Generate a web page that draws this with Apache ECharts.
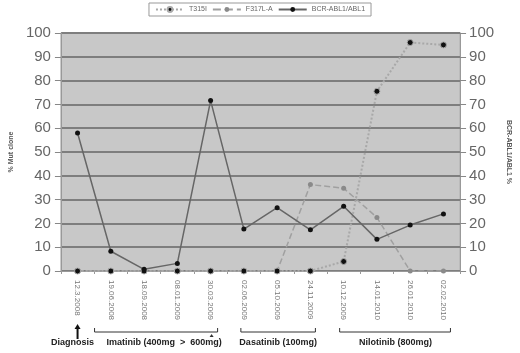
<!DOCTYPE html>
<html>
<head>
<meta charset="utf-8">
<script src="https://cdn.jsdelivr.net/npm/echarts@6/dist/echarts.min.js"></script>
<style>
  html, body { margin: 0; padding: 0; background: #fff; }
  #chart { width: 520px; height: 353px; }
</style>
</head>
<body>
<div id="chart"></div>
<script>
var dates = ['12.3.2008', '19.06.2008', '18.09.2008', '08.01.2009', '30.03.2009', '02.06.2009',
  '05.10.2009', '24.11.2009', '10.12.2009', '14.01.2010', '26.01.2010', '02.02.2010'];
var t315i = [0, 0, 0, 0, 0, 0, 0, 0, 4, 75.5, 96, 95];
var f317l = [0, 0, 0, 0, 0, 0, 0, 36.3, 34.8, 22.5, 0, 0];
var bcrAbl = [58, 8.3, 0.7, 3.2, 71.6, 17.6, 26.6, 17.3, 27.2, 13.3, 19.3, 24];
var yTicks = [0, 100, 10];

var myChart = echarts.init(document.getElementById('chart'));
var font = 'Liberation Sans, Arial, sans-serif';

var option = {
  animation: false,
  textStyle: { fontFamily: font },
  legend: {
    top: 3,
    left: 'center',
    width: 230,
    padding: [3, 6],
    itemGap: 5,
    itemWidth: 28,
    itemHeight: 6,
    borderColor: '#999',
    borderWidth: 1,
    textStyle: { fontSize: 7, color: '#666' },
    data: ['T315I', 'F317L-A', 'BCR-ABL1/ABL1']
  },
  grid: {
    left: 50, right: 50, top: 33, bottom: 82,
    show: true,
    backgroundColor: '#c8c8c8',
    borderColor: '#aaa',
    borderWidth: 1
  },
  xAxis: {
    type: 'category',
    data: dates,
    boundaryGap: true,
    axisLine: { lineStyle: { color: '#999', width: 1 } },
    axisTick: { show: true, length: 3, lineStyle: { color: '#999' } },
    axisLabel: { rotate: -90, fontSize: 8, color: '#777', margin: 9, interval: 0 }
  },
  yAxis: [
    {
      type: 'value', min: yTicks[0], max: yTicks[1], interval: yTicks[2],
      name: '% Mut clone', nameLocation: 'middle', nameGap: 40, nameRotate: 90,
      nameTextStyle: { fontSize: 7, fontWeight: 'bold', color: '#555' },
      axisLine: { show: true, lineStyle: { color: '#999' } },
      axisTick: { show: true, length: 6, lineStyle: { color: '#888' } },
      axisLabel: { fontSize: 15, color: '#666', margin: 10 },
      splitLine: { lineStyle: { color: '#7e7e7e', width: 2 } }
    },
    {
      type: 'value', min: yTicks[0], max: yTicks[1], interval: yTicks[2],
      name: 'BCR-ABL1/ABL1 %', nameLocation: 'middle', nameGap: 40, nameRotate: -90,
      nameTextStyle: { fontSize: 7, fontWeight: 'bold', color: '#555' },
      axisLine: { show: true, lineStyle: { color: '#999' } },
      axisTick: { show: true, length: 6, lineStyle: { color: '#888' } },
      axisLabel: { fontSize: 15, color: '#666', margin: 9 },
      splitLine: { show: false }
    }
  ],
  series: [
    {
      name: 'T315I', type: 'line', data: t315i,
      symbol: 'circle', symbolSize: 6,
      lineStyle: { type: 'dotted', color: '#a8a8a8', width: 2 },
      itemStyle: { color: '#111', borderColor: '#aaa', borderWidth: 1 },
      z: 3
    },
    {
      name: 'F317L-A', type: 'line', data: f317l,
      symbol: 'circle', symbolSize: 5,
      lineStyle: { type: 'dashed', color: '#a0a0a0', width: 1.5 },
      itemStyle: { color: '#8a8a8a' },
      z: 2
    },
    {
      name: 'BCR-ABL1/ABL1', type: 'line', data: bcrAbl, yAxisIndex: 1,
      symbol: 'circle', symbolSize: 5,
      lineStyle: { type: 'solid', color: '#666', width: 1.5 },
      itemStyle: { color: '#111' },
      z: 4
    }
  ]
};
myChart.setOption(option);

// treatment annotations under the date labels
function px(i) { return myChart.convertToPixel({ xAxisIndex: 0 }, dates[i]); }
var by = 332;
function bracket(x1, x2) {
  return {
    type: 'polyline',
    shape: { points: [[x1, by - 4], [x1, by], [x2, by], [x2, by - 4]] },
    style: { stroke: '#333', lineWidth: 1, fill: null }
  };
}
function label(x, text, align) {
  return {
    type: 'text', x: x, y: 343,
    style: { text: text, fontSize: 9, fontWeight: 'bold', fill: '#222', align: align || 'center', verticalAlign: 'middle', fontFamily: font }
  };
}
var x0 = px(0);
myChart.setOption({
  graphic: [
    { type: 'line', shape: { x1: x0, y1: 339, x2: x0, y2: 327 }, style: { stroke: '#111', lineWidth: 2 } },
    { type: 'polygon', shape: { points: [[x0 - 3, 329], [x0 + 3, 329], [x0, 324]] }, style: { fill: '#111' } },
    label(x0 - 5, 'Diagnosis'),
    bracket(px(0) + 17, px(4) + 7),
    { type: 'polygon', shape: { points: [[px(4) - 1, 337], [px(4) + 3, 337], [px(4) + 1, 334]] }, style: { fill: '#333' } },
    label(px(2) + 20, 'Imatinib (400mg  >  600mg)'),
    bracket(px(5) - 3, px(7) + 5),
    label((px(5) + px(7)) / 2 + 1, 'Dasatinib (100mg)'),
    bracket(px(8) - 4, px(11) + 7),
    label((px(8) + px(11)) / 2 + 2, 'Nilotinib (800mg)')
  ]
});
window.addEventListener('resize', function () { myChart.resize(); });
</script>
</body>
</html>
